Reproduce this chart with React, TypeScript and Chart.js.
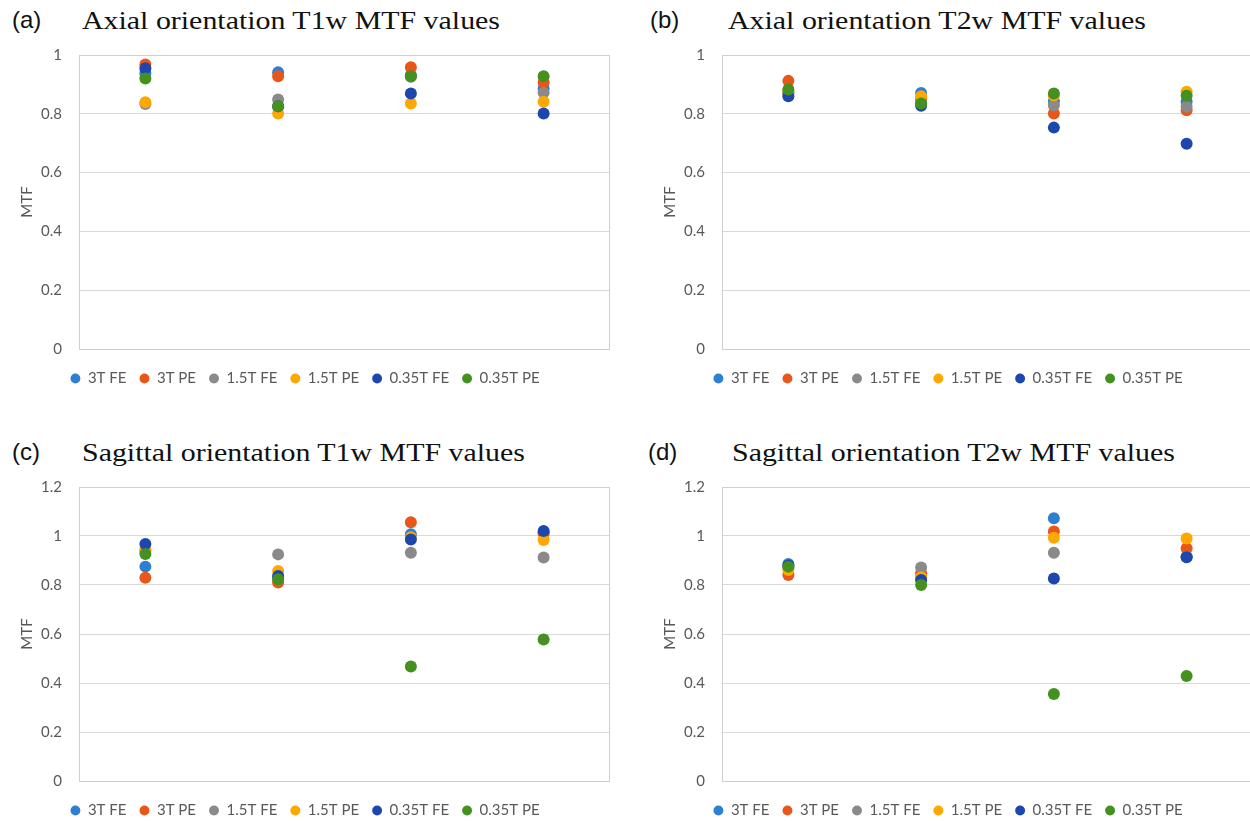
import React, { useEffect, useRef } from "react";
import { Chart, registerables } from "chart.js";

Chart.register(...registerables);

// ---------- data ----------
const categories = ["1", "2", "3", "4"];
const seriesNames = ["3T FE", "3T PE", "1.5T FE", "1.5T PE", "0.35T FE", "0.35T PE"];
const seriesColors = ["#2F7FD0", "#E8561A", "#8A8A8A", "#FDA800", "#1D47AD", "#44911F"];

const axialTicks = [0, 0.2, 0.4, 0.6, 0.8, 1];
const sagittalTicks = [0, 0.2, 0.4, 0.6, 0.8, 1, 1.2];

// rows follow seriesNames order
const axialT1w = [
  [0.938, 0.941, 0.932, 0.886],
  [0.968, 0.928, 0.958, 0.907],
  [0.833, 0.849, 0.926, 0.872],
  [0.839, 0.801, 0.835, 0.841],
  [0.955, 0.826, 0.869, 0.801],
  [0.920, 0.826, 0.928, 0.928],
];
const axialT2w = [
  [0.870, 0.871, 0.843, 0.841],
  [0.912, 0.850, 0.801, 0.812],
  [0.872, 0.840, 0.829, 0.824],
  [0.878, 0.860, 0.862, 0.875],
  [0.860, 0.827, 0.753, 0.698],
  [0.883, 0.835, 0.869, 0.861],
];
const sagittalT1w = [
  [0.875, 0.830, 1.007, 1.015],
  [0.830, 0.810, 1.056, 1.010],
  [0.940, 0.925, 0.932, 0.912],
  [0.946, 0.857, 0.995, 0.984],
  [0.967, 0.837, 0.986, 1.020],
  [0.927, 0.823, 0.467, 0.578],
];
const sagittalT2w = [
  [0.886, 0.830, 1.072, 0.915],
  [0.841, 0.848, 1.018, 0.950],
  [0.870, 0.871, 0.932, 0.915],
  [0.861, 0.832, 0.993, 0.990],
  [0.880, 0.820, 0.827, 0.913],
  [0.875, 0.800, 0.355, 0.429],
];

// ---------- chart ----------
const outlinePlugin = {
  id: "plotOutline",
  beforeDatasetsDraw(chart: any) {
    const { ctx, chartArea } = chart;
    ctx.save();
    ctx.strokeStyle = "#CFCFCF";
    ctx.lineWidth = 1;
    ctx.strokeRect(
      Math.round(chartArea.left) + 0.5,
      Math.round(chartArea.top) + 0.5,
      Math.round(chartArea.right - chartArea.left) - 1,
      Math.round(chartArea.bottom - chartArea.top)
    );
    ctx.restore();
  },
};

const FONT = "Lato, 'Open Sans', sans-serif";
const TEXT = "#595959";

function Panel(props: {
  left: number;
  top: number;
  label: string;
  title: string;
  labelLeft: number;
  titleLeft: number;
  values: number[][];
  ticks: number[];
}) {
  const ref = useRef<HTMLCanvasElement | null>(null);
  const { values, ticks } = props;

  useEffect(() => {
    if (!ref.current) return;
    const ymax = ticks[ticks.length - 1];
    const chart = new Chart(ref.current, {
      type: "line",
      data: {
        labels: categories,
        datasets: seriesNames.map((name, i) => ({
          label: name,
          data: values[i],
          showLine: false,
          order: seriesNames.length - 1 - i,
          pointStyle: "circle",
          pointRadius: 6,
          pointHoverRadius: 6,
          pointBorderWidth: 0,
          pointBackgroundColor: seriesColors[i],
          pointBorderColor: seriesColors[i],
          backgroundColor: seriesColors[i],
          borderColor: seriesColors[i],
          borderWidth: 0,
        })),
      },
      options: {
        animation: false,
        responsive: false,
        devicePixelRatio: 1,
        layout: { padding: { left: 0, right: 15, top: 4, bottom: 4 } },
        scales: {
          x: {
            type: "category",
            offset: true,
            grid: { display: false },
            border: { display: false },
            ticks: { display: false },
            afterFit: (s: any) => {
              s.height = 9;
            },
          },
          y: {
            min: 0,
            max: ymax,
            afterBuildTicks: (s: any) => {
              s.ticks = ticks.map((v) => ({ value: v }));
            },
            afterFit: (s: any) => {
              s.width = 79;
            },
            grid: { color: "#D9D9D9", drawTicks: false },
            border: { display: true, color: "#CFCFCF" },
            ticks: {
              padding: 17,
              color: TEXT,
              font: { family: FONT, size: 15 },
              callback: (v: any) => String(Number(Number(v).toFixed(1))),
            },
            title: {
              display: true,
              text: "MTF",
              color: TEXT,
              font: { family: FONT, size: 15 },
              padding: { top: 18, bottom: 0 },
            },
          },
        },
        plugins: {
          title: { display: false },
          tooltip: { enabled: false },
          legend: {
            position: "bottom",
            reverse: true,
            labels: {
              usePointStyle: true,
              pointStyle: "circle",
              boxWidth: 10,
              boxHeight: 7,
              padding: 13,
              color: TEXT,
              font: { family: FONT, size: 15 },
            },
          },
        },
      } as any,
      plugins: [outlinePlugin],
    });
    return () => chart.destroy();
  }, [values, ticks]);

  return (
    <>
      <div
        style={{
          position: "absolute",
          left: props.labelLeft,
          top: props.top - 32,
          fontFamily: "'Liberation Sans', Arial, sans-serif",
          fontSize: 24,
          lineHeight: "24px",
          color: "#111",
          whiteSpace: "nowrap",
        }}
      >
        {props.label}
      </div>
      <div
        style={{
          position: "absolute",
          left: props.titleLeft,
          top: props.top - 32.5,
          fontFamily: "'Liberation Serif', 'Times New Roman', serif",
          fontSize: 26,
          lineHeight: "26px",
          color: "#111",
          whiteSpace: "nowrap",
          transform: "scaleX(1.15)",
          transformOrigin: "left center",
        }}
      >
        {props.title}
      </div>
      <canvas
        ref={ref}
        width={625}
        height={371}
        style={{ position: "absolute", left: props.left, top: props.top - 11, width: 625, height: 371 }}
      />
    </>
  );
}

export default function App() {
  return (
    <div
      style={{
        position: "fixed",
        left: 0,
        top: 0,
        width: 1250,
        height: 821,
        overflow: "hidden",
        background: "#fff",
      }}
    >
      <Panel left={0} top={40} labelLeft={12} titleLeft={82} label="(a)" title="Axial orientation T1w MTF values" values={axialT1w} ticks={axialTicks} />
      <Panel left={643} top={40} labelLeft={650} titleLeft={728} label="(b)" title="Axial orientation T2w MTF values" values={axialT2w} ticks={axialTicks} />
      <Panel left={0} top={472} labelLeft={12} titleLeft={82} label="(c)" title="Sagittal orientation T1w MTF values" values={sagittalT1w} ticks={sagittalTicks} />
      <Panel left={643} top={472} labelLeft={648} titleLeft={732} label="(d)" title="Sagittal orientation T2w MTF values" values={sagittalT2w} ticks={sagittalTicks} />
    </div>
  );
}
